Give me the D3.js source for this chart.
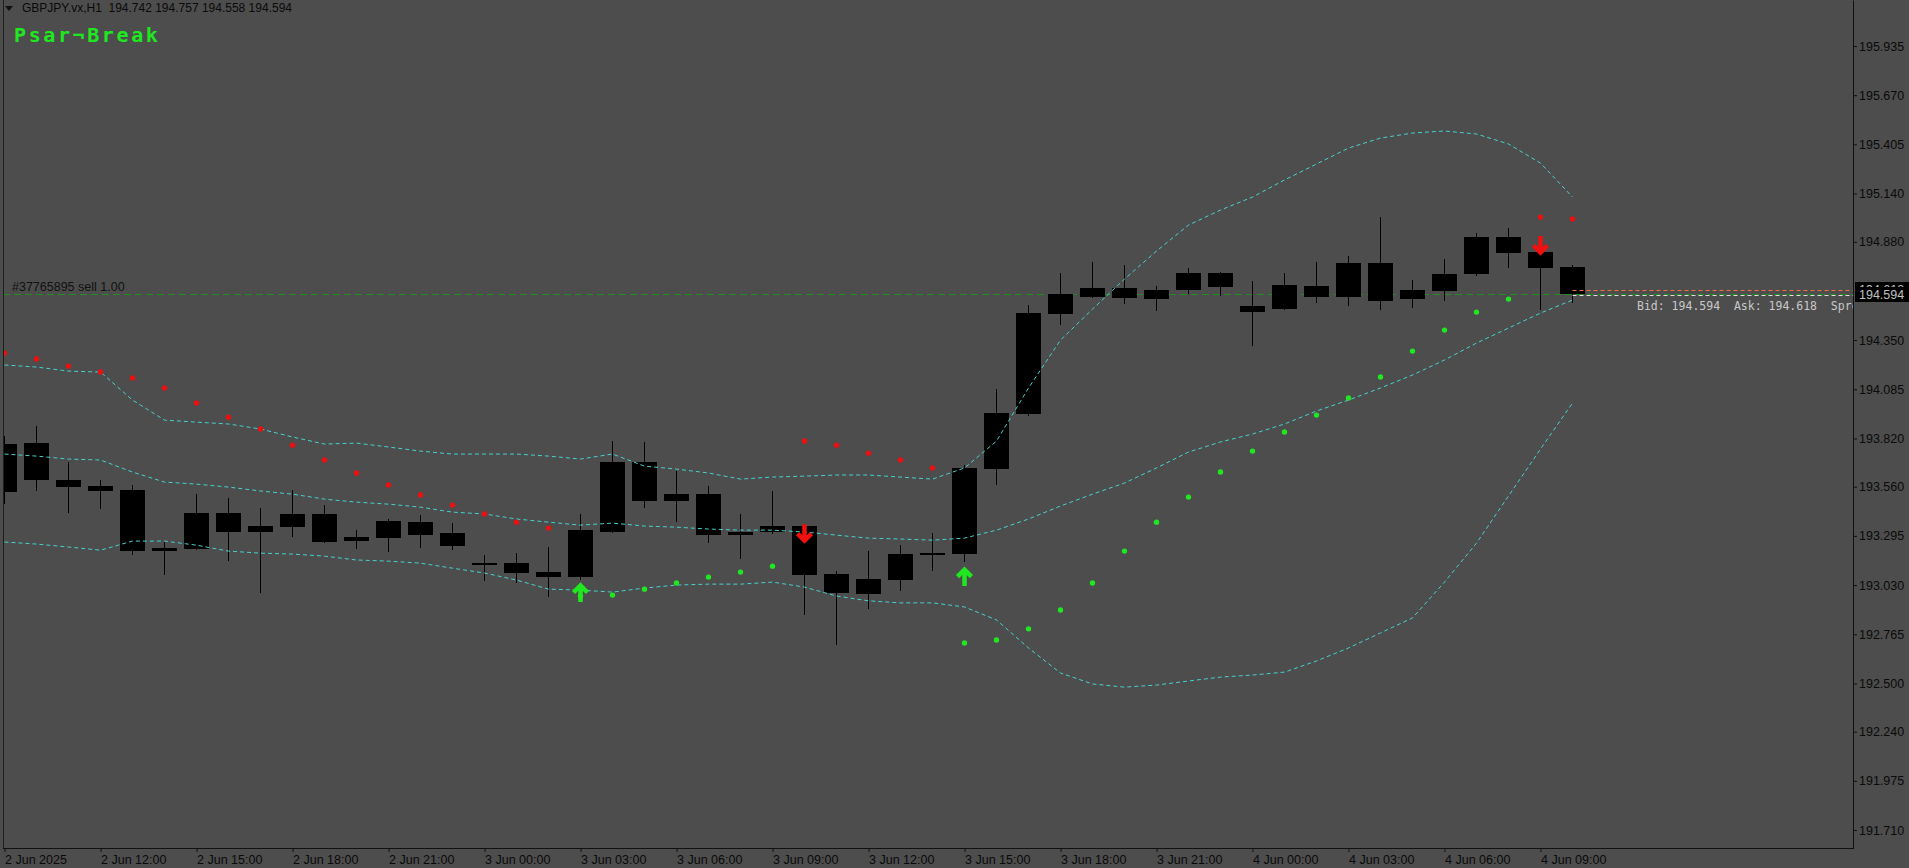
<!DOCTYPE html>
<html><head><meta charset="utf-8">
<script src="https://cdn.jsdelivr.net/npm/d3@7"></script>
<style>
html,body{margin:0;padding:0;background:#4d4d4d;overflow:hidden}
svg{display:block}
</style></head><body>
<svg id="c" width="1909" height="868"></svg>
<script>
// ---------------- DATA ----------------
const symbol = "GBPJPY.vx,H1";
const indicatorName = "Psar¬Break";
const orderLabel = "#37765895 sell 1.00";
const orderPrice = 194.598;
const bid = 194.594, ask = 194.618;

const open  = [193.790,193.596,193.596,193.564,193.542,193.213,193.224,193.418,193.316,193.342,
               193.413,193.267,193.283,193.369,193.310,193.148,193.148,193.100,193.073,193.316,
               193.693,193.483,193.520,193.299,193.316,193.348,193.089,192.981,193.057,193.192,
               193.197,193.655,193.952,194.491,194.582,194.631,194.571,194.620,194.712,194.534,
               194.517,194.642,194.582,194.765,194.571,194.615,194.706,194.906,194.825,194.742];
const high  = [193.833,193.887,193.693,193.596,193.569,193.262,193.520,193.499,193.445,193.542,
               193.461,193.326,193.386,193.407,193.364,193.192,193.202,193.235,193.413,193.806,
               193.801,193.644,193.564,193.413,193.537,193.359,193.105,193.213,193.245,193.310,
               193.677,194.086,194.539,194.712,194.771,194.755,194.642,194.739,194.717,194.668,
               194.712,194.771,194.803,195.013,194.674,194.787,194.927,194.954,194.828,194.757];
const low   = [193.472,193.542,193.423,193.445,193.197,193.089,193.224,193.165,192.992,193.294,
               193.262,193.229,193.213,193.235,193.224,193.057,193.046,192.971,193.062,193.316,
               193.450,193.375,193.262,193.175,193.310,192.875,192.713,192.907,193.003,193.111,
               193.159,193.574,193.946,194.437,194.582,194.550,194.512,194.604,194.593,194.323,
               194.517,194.555,194.539,194.517,194.528,194.566,194.701,194.744,194.517,194.558];
const close = [193.531,193.795,193.558,193.537,193.213,193.229,193.418,193.316,193.348,193.413,
               193.262,193.289,193.375,193.299,193.240,193.138,193.095,193.073,193.326,193.693,
               193.483,193.520,193.299,193.316,193.348,193.084,192.987,193.062,193.197,193.202,
               193.661,193.957,194.496,194.598,194.631,194.577,194.620,194.712,194.636,194.501,
               194.647,194.582,194.765,194.561,194.620,194.706,194.906,194.819,194.739,194.594];

const bbUpper  = [194.216,194.205,194.183,194.178,194.027,193.919,193.908,193.898,193.871,193.828,
                  193.790,193.795,193.774,193.752,193.736,193.736,193.736,193.725,193.709,193.736,
                  193.671,193.655,193.634,193.601,193.612,193.617,193.623,193.623,193.612,193.601,
                  193.661,193.806,194.092,194.350,194.517,194.679,194.830,194.970,195.051,195.121,
                  195.213,195.299,195.385,195.439,195.466,195.477,195.461,195.407,195.304,195.121];
const bbMiddle = [193.736,193.725,193.709,193.704,193.639,193.585,193.574,193.558,193.537,193.520,
                  193.493,193.477,193.466,193.450,193.423,193.413,193.386,193.369,193.353,193.364,
                  193.348,193.342,193.332,193.326,193.326,193.316,193.299,193.283,193.278,193.272,
                  193.283,193.326,193.386,193.456,193.520,193.580,193.661,193.747,193.801,193.844,
                  193.898,193.968,194.027,194.092,194.162,194.243,194.334,194.415,194.496,194.566];
const bbLower  = [193.262,193.251,193.235,193.218,193.267,193.267,193.245,193.213,193.202,193.197,
                  193.186,193.165,193.159,193.148,193.121,193.095,193.057,193.008,193.003,192.992,
                  193.014,193.030,193.035,193.035,193.046,193.019,192.971,192.945,192.934,192.934,
                  192.912,192.842,192.691,192.556,192.497,192.480,192.491,192.513,192.534,192.545,
                  192.561,192.621,192.691,192.772,192.853,193.046,193.256,193.510,193.763,194.011];

const psar     = [194.280,194.248,194.210,194.178,194.146,194.092,194.011,193.935,193.871,193.784,
                  193.704,193.634,193.569,193.515,193.461,193.413,193.369,193.337,192.971,192.976,
                  193.008,193.041,193.073,193.100,193.132,193.806,193.784,193.741,193.704,193.661,
                  192.718,192.734,192.794,192.896,193.041,193.213,193.369,193.504,193.639,193.752,
                  193.855,193.946,194.038,194.151,194.291,194.404,194.501,194.571,195.013,195.003];
// 1 = bullish (dot below, green), 0 = bearish (dot above, red)
const psarBull = [0,0,0,0,0,0,0,0,0,0, 0,0,0,0,0,0,0,0,1,1, 1,1,1,1,1,0,0,0,0,0,
                  1,1,1,1,1,1,1,1,1,1, 1,1,1,1,1,1,1,1,0,0];

const buyArrowBars   = [18, 30];
const buyArrowPrice  = [193.041, 193.127];
const sellArrowBars  = [25, 48];
const sellArrowPrice = [193.256, 194.809];

const timeLabelBars = [0,3,6,9,12,15,18,21,24,27,30,33,36,39,42,45,48];
const timeLabels = ["2 Jun 2025","2 Jun 12:00","2 Jun 15:00","2 Jun 18:00","2 Jun 21:00",
                    "3 Jun 00:00","3 Jun 03:00","3 Jun 06:00","3 Jun 09:00","3 Jun 12:00",
                    "3 Jun 15:00","3 Jun 18:00","3 Jun 21:00","4 Jun 00:00","4 Jun 03:00",
                    "4 Jun 06:00","4 Jun 09:00"];
const priceTicks = [195.935,195.670,195.405,195.140,194.880,194.350,194.085,193.820,
                    193.560,193.295,193.030,192.765,192.500,192.240,191.975,191.710];

// ---------------- DRAW ----------------
const W = 1909, H = 868;
const plotLeft = 3, plotRight = 1853, plotBottom = 848;
const n = close.length;
const x = d3.scaleLinear().domain([0, n - 1]).range([4.5, 1572.5]);
const y = d3.scaleLinear().domain([191.613, 196.183]).range([plotBottom, 0]);
const barStep = x(1) - x(0);
const bodyW = Math.round(barStep * 0.78);

const svg = d3.select("#c");
svg.append("rect").attr("width", W).attr("height", H).attr("fill", "#4d4d4d");
const defs = svg.append("defs");
defs.append("clipPath").attr("id", "plot")
  .append("rect").attr("x", plotLeft + 1).attr("y", 0)
  .attr("width", plotRight - plotLeft - 1).attr("height", plotBottom);
const g = svg.append("g").attr("clip-path", "url(#plot)");

// trade line
const yo = Math.round(y(orderPrice)) + 0.5;
g.append("line").attr("x1", plotLeft).attr("x2", plotRight).attr("y1", yo).attr("y2", yo)
  .attr("stroke", "#238c23").attr("stroke-width", 1).attr("stroke-dasharray", "7,4");

// candles
const idx = d3.range(n);
g.selectAll("line.wick").data(idx).join("line").attr("class", "wick")
  .attr("x1", i => x(i)).attr("x2", i => x(i))
  .attr("y1", i => Math.round(y(high[i]))).attr("y2", i => Math.round(y(low[i])) + 1)
  .attr("stroke", "#000").attr("stroke-width", 1);
g.selectAll("rect.body").data(idx).join("rect").attr("class", "body")
  .attr("x", i => x(i) - bodyW / 2)
  .attr("y", i => Math.round(Math.min(y(open[i]), y(close[i]))))
  .attr("width", bodyW)
  .attr("height", i => Math.max(2, Math.round(Math.abs(y(open[i]) - y(close[i])))))
  .attr("fill", "#000");

// bollinger bands
const line = d3.line().x((d, i) => x(i)).y(d => y(d));
[bbUpper, bbMiddle, bbLower].forEach(arr => {
  g.append("path").attr("d", line(arr)).attr("fill", "none")
    .attr("stroke", "#48d1cc").attr("stroke-width", 1).attr("stroke-dasharray", "4,3");
});

// psar dots
g.selectAll("circle.psar").data(idx).join("circle").attr("class", "psar")
  .attr("cx", i => x(i)).attr("cy", i => y(psar[i])).attr("r", 2.7)
  .attr("fill", i => psarBull[i] ? "#1fe81f" : "#ec1010");

// arrows
const upPath = "M-7,9.5 L0,2.5 L7,9.5 M0,3 L0,19";
const downPath = "M-7,-9.5 L0,-2.5 L7,-9.5 M0,-3 L0,-19";
buyArrowBars.forEach((b, k) => {
  g.append("path").attr("d", upPath)
    .attr("transform", `translate(${x(b)},${y(buyArrowPrice[k])})`)
    .attr("fill", "none").attr("stroke", "#1fe81f").attr("stroke-width", 4.5)
    .attr("stroke-linejoin", "miter");
});
sellArrowBars.forEach((b, k) => {
  g.append("path").attr("d", downPath)
    .attr("transform", `translate(${x(b)},${y(sellArrowPrice[k])})`)
    .attr("fill", "none").attr("stroke", "#f01010").attr("stroke-width", 4.5)
    .attr("stroke-linejoin", "miter");
});

// bid / ask lines
const xLast = x(n - 1);
const yAsk = Math.round(y(ask)) + 0.5, yBid = Math.round(y(bid)) + 0.5;
g.append("line").attr("x1", xLast).attr("x2", plotRight).attr("y1", yAsk).attr("y2", yAsk)
  .attr("stroke", "#ee7040").attr("stroke-dasharray", "4,3");
g.append("line").attr("x1", xLast).attr("x2", plotRight).attr("y1", yBid).attr("y2", yBid)
  .attr("stroke", "#e0e0e0").attr("stroke-dasharray", "4,3");

g.append("text").attr("x", 1637).attr("y", 310)
  .attr("font-family", "DejaVu Sans Mono").attr("font-size", "11.5px").attr("fill", "#c8c8c8")
  .attr("xml:space", "preserve").style("white-space", "pre")
  .text(`Bid: ${bid.toFixed(3)}  Ask: ${ask.toFixed(3)}  Spread: ${Math.round((ask - bid) * 1000)}`);

// order label
g.append("text").attr("x", 12).attr("y", 291)
  .attr("font-family", "Liberation Sans").attr("font-size", "12.5px").attr("fill", "#111")
  .text(orderLabel);

// indicator name
svg.append("text").attr("x", 14).attr("y", 42)
  .attr("font-family", "DejaVu Sans Mono").attr("font-size", "20px").attr("font-weight", "bold")
  .attr("letter-spacing", "2.6px").attr("fill", "#1fe81f").text(indicatorName);

// header
svg.append("path").attr("d", "M5,6 L13,6 L9,11 Z").attr("fill", "#111");
svg.append("text").attr("x", 22).attr("y", 12)
  .attr("font-family", "Liberation Sans").attr("font-size", "12px").attr("fill", "#0a0a0a")
  .attr("xml:space", "preserve").style("white-space", "pre")
  .text(`${symbol}  ${open[n-1].toFixed(3)} ${high[n-1].toFixed(3)} ${low[n-1].toFixed(3)} ${close[n-1].toFixed(3)}`);

// frame lines
svg.append("line").attr("x1", plotLeft + 0.5).attr("x2", plotLeft + 0.5).attr("y1", 0).attr("y2", plotBottom)
  .attr("stroke", "#1e1e1e");
svg.append("line").attr("x1", plotLeft).attr("x2", plotRight + 1).attr("y1", plotBottom + 0.5).attr("y2", plotBottom + 0.5)
  .attr("stroke", "#111");

// y axis
const yAxis = d3.axisRight(y).tickValues(priceTicks).tickFormat(d3.format(".3f"))
  .tickSize(4).tickPadding(2).tickSizeOuter(0);
const gy = svg.append("g").attr("transform", `translate(${plotRight},0)`).call(yAxis);
gy.select(".domain").attr("stroke", "#111");
gy.selectAll(".tick line").attr("stroke", "#111");
gy.selectAll(".tick text").attr("fill", "#0a0a0a").attr("font-family", "Liberation Sans").attr("font-size", "12.5px");

// x axis
const xAxis = d3.axisBottom(x).tickValues(timeLabelBars).tickFormat((d, i) => timeLabels[i])
  .tickSize(4).tickPadding(3);
const gx = svg.append("g").attr("transform", `translate(0,${plotBottom})`).call(xAxis);
gx.select(".domain").remove();
gx.selectAll(".tick line").attr("stroke", "#111");
gx.selectAll(".tick text").attr("fill", "#0a0a0a").attr("text-anchor", "start").attr("x", 0)
  .attr("font-family", "Liberation Sans").attr("font-size", "12.5px");

// price label boxes: ask label sits under the bid label (only its top edge shows)
const yA = y(ask), yB = y(bid);
defs.append("clipPath").attr("id", "askclip").append("rect")
  .attr("x", plotRight + 2).attr("y", Math.round(yA) - 8).attr("width", W - plotRight - 2)
  .attr("height", Math.round(yB) - 8 - (Math.round(yA) - 8));
svg.append("rect").attr("x", plotRight + 2).attr("y", Math.round(yA) - 8).attr("width", W - plotRight - 2).attr("height", 15)
  .attr("fill", "#000");
svg.append("text").attr("x", plotRight + 6).attr("y", yA).attr("dy", "0.32em")
  .attr("clip-path", "url(#askclip)")
  .attr("font-family", "Liberation Sans").attr("font-size", "12.5px").attr("fill", "#c0c0c0")
  .text(ask.toFixed(3));
svg.append("rect").attr("x", plotRight + 2).attr("y", Math.round(yB) - 8).attr("width", W - plotRight - 2).attr("height", 15)
  .attr("fill", "#000");
svg.append("text").attr("x", plotRight + 6).attr("y", yB).attr("dy", "0.32em")
  .attr("font-family", "Liberation Sans").attr("font-size", "12.5px").attr("fill", "#c0c0c0")
  .text(bid.toFixed(3));
</script>
</body></html>
